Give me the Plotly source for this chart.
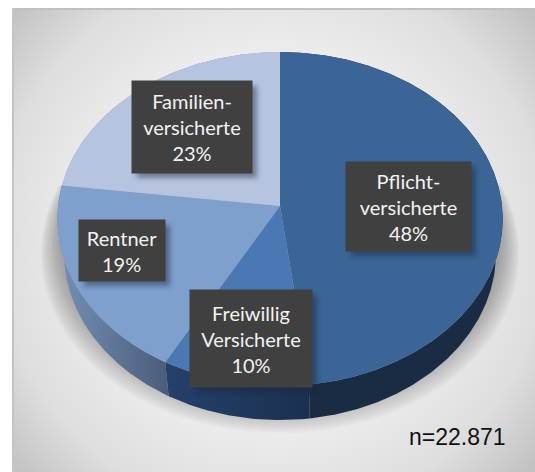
import math
from urllib.parse import quote
import plotly.graph_objects as go

categories = ["Pflicht-<br>versicherte", "Freiwillig<br>Versicherte", "Rentner", "Familien-<br>versicherte"]
shares = [48, 10, 19, 23]
top_colors = ["#3b6596", "#4a78b2", "#7f9fcd", "#b6c4df"]
side_colors = [["#1a2c44", "#1a2c44"], ["#25406a", "#1b3050"], ["#7590b6", "#4a5c7a"], ["#8a9cbc", "#8a9cbc"]]
note = "n=22.871"

# pie geometry in pixels (axes below run 1:1 with the page)
APEX_X, APEX_Y, W, H, K, DEPTH, TAPER = 280, 206, 222, 166, -0.078, 34, 0.97
SHADOW_LAYERS, SHADOW_CUT = 18, 433


def rim(theta):
    u, v = math.sin(theta), -math.cos(theta)
    d = 1 + K * v
    return APEX_X + W * u / d, APEX_Y + H * v / d


def arc(a0, a1):
    n = max(2, int(abs(a1 - a0) / 0.01))
    return [rim(a0 + (a1 - a0) * i / n) for i in range(n + 1)]


total = sum(shares)
edges = [0]
for s in shares:
    edges.append(edges[-1] + s / total * 2 * math.pi)

fig = go.Figure()

# soft floor shadow: stacked translucent copies of the lower rim, cut off flat at the bottom
lower = arc(math.pi * 0.40, math.pi * 1.60)
for k in range(SHADOW_LAYERS):
    f = 1 - k / (SHADOW_LAYERS - 1)
    sx, dy = 0.99 + 0.085 * f, 20 + 14 * f
    xs = [APEX_X + sx * (p[0] - APEX_X) for p in lower]
    ys = [min(APEX_Y + sx * (p[1] - APEX_Y) + dy, SHADOW_CUT) for p in lower]
    fig.add_trace(go.Scatter(
        x=xs + [xs[0]], y=ys + [ys[0]], mode="lines", line=dict(width=0), fill="toself",
        fillcolor="rgba(90,90,90,0.028)", hoverinfo="skip", showlegend=False))

for i in range(len(shares)):
    pts = arc(edges[i], edges[i + 1])
    low = [(APEX_X + TAPER * (p[0] - APEX_X), p[1] + DEPTH) for p in reversed(pts)]
    xs = [p[0] for p in pts] + [p[0] for p in low] + [pts[0][0]]
    ys = [p[1] for p in pts] + [p[1] for p in low] + [pts[0][1]]
    fig.add_trace(go.Scatter(
        x=xs, y=ys, mode="lines", line=dict(width=0), fill="toself",
        fillgradient=dict(type="horizontal", colorscale=[[0, side_colors[i][0]], [1, side_colors[i][1]]]),
        hoverinfo="skip", showlegend=False))
for i in range(len(shares)):
    pts = arc(edges[i], edges[i + 1])
    xs = [APEX_X] + [p[0] for p in pts] + [APEX_X]
    ys = [APEX_Y] + [p[1] for p in pts] + [APEX_Y]
    fig.add_trace(go.Scatter(
        x=xs, y=ys, mode="lines", line=dict(width=0), fill="toself", fillcolor=top_colors[i],
        hoverinfo="skip", showlegend=False, name=categories[i].replace("<br>", " ")))

boxes = [(346, 162, 471, 251), (190, 290, 312, 387), (79, 220, 165, 281), (132, 81, 252, 173)]

bg = f'''<svg xmlns="http://www.w3.org/2000/svg" width="535" height="472" viewBox="0 0 535 472">
<defs>
<radialGradient id="g" gradientUnits="userSpaceOnUse" cx="272" cy="240" r="345">
<stop offset="0" stop-color="#fbfbfb"/><stop offset="0.55" stop-color="#ececec"/>
<stop offset="0.8" stop-color="#dedede"/><stop offset="1" stop-color="#c2c2c2"/></radialGradient>
</defs>
<rect x="12" y="8" width="523" height="464" fill="url(#g)"/>
<rect x="12" y="8" width="523" height="2" fill="#c0c0c0"/>
<rect x="12" y="8" width="2" height="464" fill="#c4c4c4"/>
</svg>'''

shadow_rects = "".join(
    f'<rect x="{x0 + 5}" y="{y0 + 5}" width="{x1 - x0}" height="{y1 - y0}" fill="#1a2536" fill-opacity="0.45"/>'
    for x0, y0, x1, y1 in boxes)
over = f'''<svg xmlns="http://www.w3.org/2000/svg" width="535" height="472" viewBox="0 0 535 472">
<defs><filter id="s" x="-20%" y="-20%" width="140%" height="140%"><feGaussianBlur stdDeviation="2.5"/></filter></defs>
<g filter="url(#s)">{shadow_rects}</g></svg>'''


def full_image(svg, layer):
    return dict(source="data:image/svg+xml," + quote(svg), xref="paper", yref="paper", x=0, y=1,
                sizex=1, sizey=1, xanchor="left", yanchor="top", sizing="stretch", layer=layer)


annotations = []
for i, (x0, y0, x1, y1) in enumerate(boxes):
    annotations.append(dict(
        x=(x0 + x1) / 2, y=(y0 + y1) / 2, xref="x", yref="y", showarrow=False,
        text=f"{categories[i]}<br>{shares[i]}%", align="center", valign="middle",
        width=x1 - x0, height=y1 - y0, bgcolor="#404040", borderpad=0,
        font=dict(family="Lato", size=20, color="#f2f2f2")))
annotations.append(dict(x=457, y=437, xref="x", yref="y", showarrow=False, text=note,
                        font=dict(family="Liberation Sans", size=23, color="#111111")))

fig.update_layout(
    width=535, height=472, margin=dict(l=0, r=0, t=0, b=0),
    paper_bgcolor="white", plot_bgcolor="rgba(0,0,0,0)", showlegend=False,
    xaxis=dict(range=[0, 535], visible=False, fixedrange=True),
    yaxis=dict(range=[472, 0], visible=False, fixedrange=True),
    images=[full_image(bg, "below"), full_image(over, "above")],
    annotations=annotations)

fig.write_html("out.html", config={"displayModeBar": False},
               post_script="document.body.style.margin='0';")
